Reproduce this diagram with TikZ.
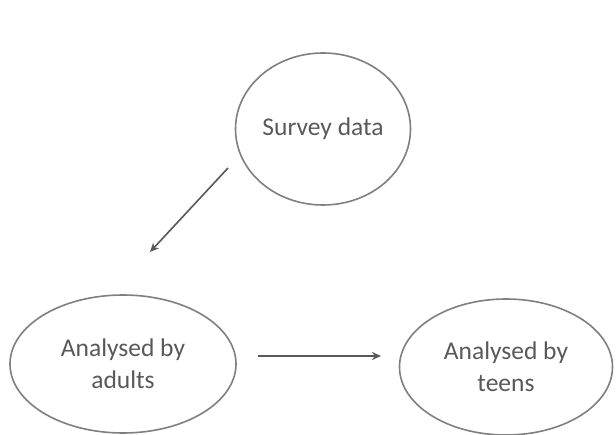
\documentclass[tikz,border=0pt]{standalone}
\usepackage{fontspec}
\setmainfont{Carlito}
\usetikzlibrary{shapes.geometric,arrows.meta}
\definecolor{rimgray}{HTML}{7F7F7F}
\definecolor{inkgray}{HTML}{595959}
\begin{document}
\begin{tikzpicture}[x=1pt,y=1pt,
  bubble/.style={ellipse, draw=rimgray, line width=1.6pt, fill=white,
    text=inkgray, font=\fontsize{25.5}{32}\selectfont, align=center, inner sep=0pt},
  flow/.style={draw=inkgray, line width=1.6pt, -{Stealth[length=9pt,width=8pt]}}]
\useasboundingbox (0,0) rectangle (616,434);
\fill[white] (0,0) rectangle (616,434);
\node[bubble, minimum width=175pt, minimum height=152pt] (survey) at (323,305) {Survey data};
\node[bubble, minimum width=226pt, minimum height=138pt] (adults) at (123,70) {Analysed by\\adults};
\node[bubble, minimum width=213pt, minimum height=136pt] (teens) at (506,67) {Analysed by\\teens};
\coordinate (a1) at (228,266);
\coordinate (a2) at (150,182);
\coordinate (b1) at (258,78);
\coordinate (b2) at (381,78);
\draw[flow] (a1) -- (a2);
\draw[flow] (b1) -- (b2);
\end{tikzpicture}
\end{document}
